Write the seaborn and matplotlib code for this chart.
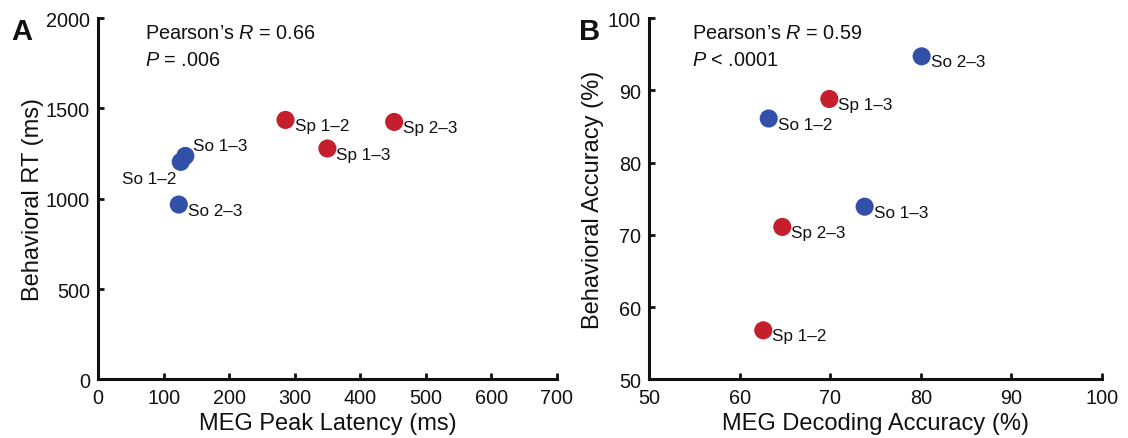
import matplotlib
matplotlib.use("Agg")
import matplotlib.pyplot as plt
import seaborn as sns
import pandas as pd

# Condition pairs (So = sound, Sp = space)
labels_a = ["So 1–2", "So 1–3", "So 2–3", "Sp 1–2", "Sp 1–3", "Sp 2–3"]
group_a = ["So", "So", "So", "Sp", "Sp", "Sp"]
latency_ms = [126, 133, 123, 286, 350, 452]
rt_ms = [1204, 1237, 968, 1436, 1278, 1425]

labels_b = ["So 1–2", "So 1–3", "So 2–3", "Sp 1–2", "Sp 1–3", "Sp 2–3"]
group_b = ["So", "So", "So", "Sp", "Sp", "Sp"]
decoding_acc = [63.2, 73.8, 80.1, 62.6, 69.9, 64.7]
behav_acc = [86.1, 73.9, 94.7, 56.8, 88.8, 71.1]

stats_a = ("0.66", "= .006")
stats_b = ("0.59", "< .0001")

sns.set_style("ticks")
ink = "#111111"
plt.rcParams["font.family"] = ["Liberation Sans", "DejaVu Sans"]
plt.rcParams["mathtext.fontset"] = "custom"
plt.rcParams["mathtext.rm"] = "Liberation Sans"
plt.rcParams["mathtext.it"] = "Liberation Sans:italic"
plt.rcParams["text.color"] = ink
plt.rcParams["axes.labelcolor"] = ink

palette = {"So": "#3250a8", "Sp": "#c51f2e"}

fig = plt.figure(figsize=(11.28, 4.39), dpi=100)
ax_a = fig.add_axes([0.0871, 0.1333, 0.4063, 0.8234])
ax_b = fig.add_axes([0.5756, 0.1333, 0.4011, 0.8234])

df_a = pd.DataFrame({"x": latency_ms, "y": rt_ms, "g": group_a, "lab": labels_a})
df_b = pd.DataFrame({"x": decoding_acc, "y": behav_acc, "g": group_b, "lab": labels_b})

for ax, df in [(ax_a, df_a), (ax_b, df_b)]:
    sns.scatterplot(data=df, x="x", y="y", hue="g", palette=palette, s=170,
                    edgecolor="none", legend=False, ax=ax, zorder=3)

# label offsets in points (default: right and slightly below the marker)
default_off = (6.5, -4)
special_a = {"So 1–3": (5.5, 7.5), "So 1–2": (-3.5, -12)}

for _, r in df_a.iterrows():
    off = special_a.get(r["lab"], default_off)
    ha = "right" if off[0] < 0 else "left"
    ax_a.annotate(r["lab"], (r["x"], r["y"]), xytext=off, textcoords="offset points",
                  ha=ha, va="center", fontsize=12.3)
for _, r in df_b.iterrows():
    ax_b.annotate(r["lab"], (r["x"], r["y"]), xytext=default_off, textcoords="offset points",
                  ha="left", va="center", fontsize=12.3)

ax_a.set_xlim(0, 700)
ax_a.set_ylim(0, 2000)
ax_a.set_xticks(range(0, 701, 100))
ax_a.set_yticks(range(0, 2001, 500))
ax_a.set_xlabel("MEG Peak Latency (ms)", fontsize=17, labelpad=4)
ax_a.set_ylabel("Behavioral RT (ms)", fontsize=17, labelpad=1)

ax_b.set_xlim(50, 100)
ax_b.set_ylim(50, 100)
ax_b.set_xticks(range(50, 101, 10))
ax_b.set_yticks(range(50, 101, 10))
ax_b.set_xlabel("MEG Decoding Accuracy (%)", fontsize=17, labelpad=4)
ax_b.set_ylabel("Behavioral Accuracy (%)", fontsize=17, labelpad=3)

for ax, (rval, pval), xt in [(ax_a, stats_a, 0.102), (ax_b, stats_b, 0.094)]:
    sns.despine(ax=ax)
    for side in ("left", "bottom"):
        ax.spines[side].set_linewidth(2.2)
        ax.spines[side].set_color(ink)
    ax.tick_params(direction="in", length=4, width=2, colors=ink,
                   labelsize=14.3, pad=6)
    ax.set_facecolor("white")
    ax.text(xt, 0.945, "Pearson’s $R$ = " + rval, transform=ax.transAxes,
            fontsize=14.3, ha="left", va="baseline")
    ax.text(xt, 0.870, "$P$ " + pval, transform=ax.transAxes,
            fontsize=14.3, ha="left", va="baseline")

fig.text(0.010, 0.909, "A", fontsize=21, fontweight="bold", ha="left", va="baseline")
fig.text(0.513, 0.909, "B", fontsize=21, fontweight="bold", ha="left", va="baseline")

fig.savefig("out.png", dpi=100, facecolor="white")
